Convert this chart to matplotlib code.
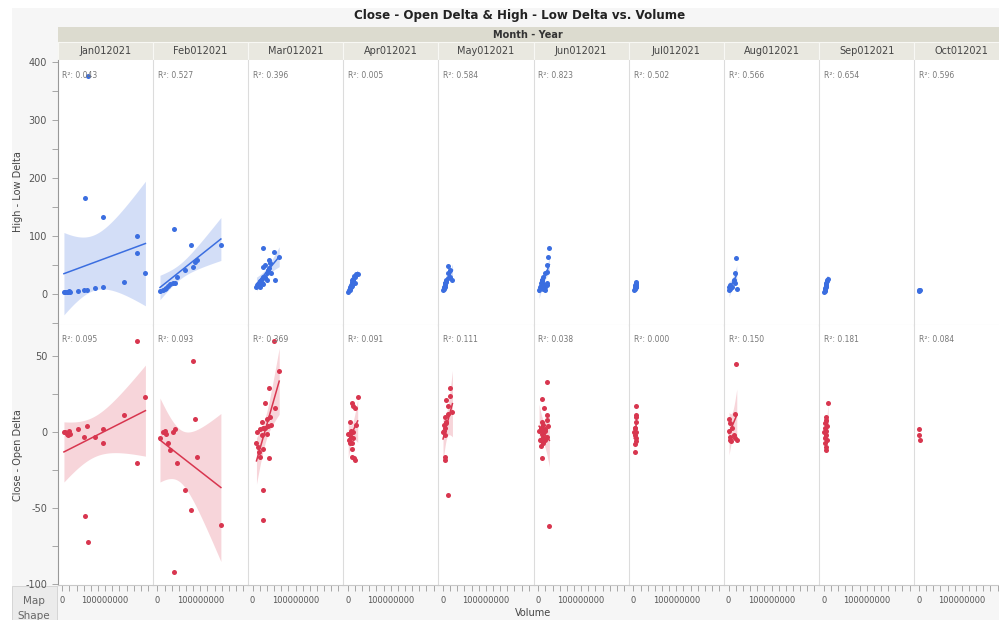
import numpy as np
import matplotlib
matplotlib.use("Agg")
import matplotlib.pyplot as plt
from matplotlib.patches import Rectangle
from matplotlib.ticker import FixedLocator, MultipleLocator, FuncFormatter

months = ['Jan012021', 'Feb012021', 'Mar012021', 'Apr012021', 'May012021',
          'Jun012021', 'Jul012021', 'Aug012021', 'Sep012021', 'Oct012021']

# volume in millions, High-Low delta, Close-Open delta
jan_vol = [4, 7, 10, 13, 16, 18, 37, 51, 53, 58, 60, 76, 94, 95, 144, 175, 175, 194]
jan_hl = [3, 3, 4, 4, 5, 4, 6, 7, 165, 7, 375, 10, 12, 133, 21, 100, 71, 36]
jan_co = [0, 0, -1, -2, 1, -1, 2, -3, -55, 4, -72, -3, 2, -7, 11, 60, -20, 23]

feb_vol = [6, 12, 17, 21, 25, 30, 37, 39, 41, 45, 64, 78, 82, 87, 93, 148]
feb_hl = [6, 7, 9, 11, 14, 17, 19, 112, 19, 30, 41, 84, 47, 55, 59, 84]
feb_co = [-4, 0, 1, -1, -7, -12, 0, -92, 2, -20, -38, -51, 47, 9, -16, -61]

mar_vol = [9, 11, 13, 15, 17, 17, 21, 21, 24, 25, 25, 25, 29, 29, 33, 33,
           36, 39, 39, 40, 44, 49, 52, 62]
mar_hl = [13, 15, 18, 16, 23, 13, 27, 20, 18, 47, 79, 30, 50, 30, 25, 36,
          41, 59, 45, 53, 36, 73, 24, 64]
mar_co = [-7, 0, -10, -13, -16, 2, 7, -2, 3, -38, -58, -11, 19, 3, 9, -1,
          4, 29, -17, 10, 5, 60, 16, 40]

apr_vol = [1, 3, 5, 5, 5, 7, 7, 9, 9, 9, 10, 11, 13, 13, 14, 17, 17, 19, 23]
apr_hl = [4, 7, 10, 8, 12, 13, 16, 21, 18, 24, 14, 27, 22, 25, 31, 20, 29, 34, 34]
apr_co = [-1, -5, 7, -1, -7, -3, 1, 19, -16, -7, -11, 0, 17, -4, -17, 16, -18, 5, 23]

may_vol = [0, 2, 3, 4, 4, 4, 4, 5, 7, 8, 8, 12, 12, 12, 16, 16, 22]
may_hl = [7, 9, 13, 12, 19, 18, 20, 15, 22, 24, 21, 36, 48, 28, 41, 30, 24]
may_co = [0, 1, 5, -2, -16, -18, 10, 3, 7, 21, 6, 17, -41, 12, 29, 24, 13]

jun_vol = [2, 4, 6, 6, 6, 8, 8, 8, 8, 10, 10, 12, 12, 13, 15, 15, 16, 20, 20,
           20, 21, 23, 26]
jun_hl = [7, 12, 20, 10, 14, 25, 22, 18, 24, 18, 9, 30, 14, 16, 8, 12, 36, 50, 20,
          15, 38, 64, 79]
jun_co = [1, -5, 3, -9, -5, 7, 22, -1, -17, 5, -3, -7, 0, 16, 1, -5, 2, 33, 11,
          8, -3, 4, -62]

jul_vol = [2, 3, 3, 4, 4, 4, 5, 5, 5, 6, 6, 7, 7]
jul_hl = [8, 11, 13, 9, 15, 10, 18, 12, 14, 16, 20, 12, 21]
jul_co = [0, 3, -8, 3, -13, -2, 11, -4, 7, -6, 17, 10, 0]

aug_vol = [1, 2, 3, 3, 4, 5, 7, 12, 15, 16, 17, 19]
aug_hl = [7, 12, 10, 9, 15, 13, 12, 24, 36, 19, 62, 9]
aug_co = [1, 9, -5, -3, 6, -6, 3, -2, 12, -4, 45, -5]

sep_vol = [1, 2, 2, 3, 3, 4, 4, 5, 5, 6, 6, 7, 8, 10]
sep_hl = [4, 6, 8, 9, 11, 12, 14, 15, 17, 18, 20, 22, 24, 26]
sep_co = [0, -4, 6, -7, 3, -10, 8, -12, 1, 10, -2, 4, -5, 19]

oct_vol = [1, 1, 2]
oct_hl = [7, 6, 8]
oct_co = [2, -2, -5]

r2_hl = ['0.043', '0.527', '0.396', '0.005', '0.584', '0.823', '0.502', '0.566', '0.654', '0.596']
r2_co = ['0.095', '0.093', '0.369', '0.091', '0.111', '0.038', '0.000', '0.150', '0.181', '0.084']

vols = [jan_vol, feb_vol, mar_vol, apr_vol, may_vol, jun_vol, jul_vol, aug_vol, sep_vol, oct_vol]
hls = [jan_hl, feb_hl, mar_hl, apr_hl, may_hl, jun_hl, jul_hl, aug_hl, sep_hl, oct_hl]
cos = [jan_co, feb_co, mar_co, apr_co, may_co, jun_co, jul_co, aug_co, sep_co, oct_co]

plt.rcParams['axes.unicode_minus'] = False
plt.rcParams['font.family'] = ['DejaVu Sans']

W, H = 999, 620
fig = plt.figure(figsize=(W / 100, H / 100), dpi=100, facecolor='white')


def rect(x0, y0, x1, y1):
    return [x0 / W, 1 - y1 / H, (x1 - x0) / W, (y1 - y0) / H]


def box(x0, y0, x1, y1, color, z=-5, **kw):
    fig.add_artist(Rectangle((x0 / W, 1 - y1 / H), (x1 - x0) / W, (y1 - y0) / H,
                             transform=fig.transFigure, facecolor=color, zorder=z, **kw))


def fit_band(x, y):
    x = np.asarray(x, float)
    y = np.asarray(y, float)
    n = len(x)
    b, a = np.polyfit(x, y, 1)
    xs = np.linspace(x.min(), x.max(), 60)
    yh = a + b * xs
    s = np.sqrt(((y - (a + b * x)) ** 2).sum() / (n - 2))
    sxx = ((x - x.mean()) ** 2).sum()
    t = 1.96 + 2.5 / (n - 2)
    se = s * np.sqrt(1.0 / n + (xs - x.mean()) ** 2 / sxx)
    return xs, yh, yh - t * se, yh + t * se


# background frame and headers
box(12, 8, W, H, '#f6f6f6', z=-10, edgecolor='none')
fig.text(520 / W, 1 - 16 / H, 'Close - Open Delta & High - Low Delta vs. Volume',
         ha='center', va='center', fontsize=8.6, fontweight='bold', color='#222222')

left0, pw = 57.5, 95.2
box(left0, 27, W, 42, '#dcdbcf', edgecolor='none')
fig.text(528 / W, 1 - 34.5 / H, 'Month - Year', ha='center', va='center',
         fontsize=7, fontweight='bold', color='#333333')

blue, blue_band = '#3b6ee0', '#c9d6f6'
red, red_band = '#d8364f', '#f5cbd1'
sc = 1e6

for i, m in enumerate(months):
    x0 = left0 + pw * i
    box(x0, 42, x0 + pw, 60, '#e9e8e0', edgecolor='#f8f8f4', linewidth=0.8)
    fig.text((x0 + pw / 2) / W, 1 - 51 / H, m, ha='center', va='center',
             fontsize=7, color='#444444')

    vol = np.array(vols[i]) * sc
    rows = [(hls[i], r2_hl[i], 60, 325, (-53, 403), blue, blue_band),
            (cos[i], r2_co[i], 325, 585, (-100.5, 70.5), red, red_band)]
    for r, (vals, r2, ya, yb, ylim, col, bcol) in enumerate(rows):
        ax = fig.add_axes(rect(x0, ya, x0 + pw, yb))
        ax.set_facecolor('white')
        ax.set_xlim(-11e6, 211e6)
        ax.set_ylim(*ylim)
        for sp in ['top', 'right']:
            ax.spines[sp].set_visible(False)
        ax.spines['left'].set_color('#dcdcdc')
        ax.spines['bottom'].set_color('#dcdcdc' if r == 0 else '#c8c8c8')
        if len(vol) >= 5:
            xs, yh, lo, hi = fit_band(vol, vals)
            ax.fill_between(xs, lo, hi, color=bcol, alpha=0.8, linewidth=0, zorder=1)
            ax.plot(xs, yh, color=col, linewidth=1.1, zorder=2)
        ax.scatter(vol, vals, s=13, color=col, linewidths=0, zorder=3)
        ax.text(5 / pw, 1 - 15 / (yb - ya), 'R\u00b2: ' + r2, transform=ax.transAxes,
                fontsize=5.5, color='#777777', va='center', ha='left')

        if i == 0:
            ax.spines['left'].set_color('#999999')
            if r == 0:
                ax.yaxis.set_major_locator(FixedLocator([0, 100, 200, 300, 400]))
                ax.yaxis.set_minor_locator(MultipleLocator(50))
            else:
                ax.yaxis.set_major_locator(FixedLocator([-100, -50, 0, 50]))
                ax.yaxis.set_minor_locator(MultipleLocator(25))
            ax.tick_params(axis='y', which='both', colors='#999999', labelcolor='#555555',
                           labelsize=7, length=4, width=0.6)
        else:
            ax.tick_params(axis='y', which='both', left=False, labelleft=False)

        if r == 1:
            ax.xaxis.set_major_locator(FixedLocator([0, 1e8]))
            ax.xaxis.set_major_formatter(FuncFormatter(lambda v, p: '%d' % round(v)))
            ax.xaxis.set_minor_locator(MultipleLocator(1e8 / 6))
            ax.tick_params(axis='x', which='both', colors='#999999', labelcolor='#555555',
                           labelsize=6, length=4, width=0.6, pad=4)
        else:
            ax.tick_params(axis='x', which='both', bottom=False, labelbottom=False)

fig.text(18 / W, 1 - 192 / H, 'High - Low Delta', rotation=90, ha='center', va='center',
         fontsize=7, color='#444444')
fig.text(18 / W, 1 - 455 / H, 'Close - Open Delta', rotation=90, ha='center', va='center',
         fontsize=7, color='#444444')

box(12, 586, 57, H, '#ebebeb', z=-4, edgecolor='#d0d0d0', linewidth=0.6)
fig.text(34 / W, 1 - 601 / H, 'Map', ha='center', va='center', fontsize=7.5, color='#666666')
fig.text(34 / W, 1 - 616 / H, 'Shape', ha='center', va='center', fontsize=7.5, color='#666666')
fig.text(533 / W, 1 - 613 / H, 'Volume', ha='center', va='center', fontsize=7, color='#444444')

fig.savefig('out.png', dpi=100, facecolor=fig.get_facecolor())
